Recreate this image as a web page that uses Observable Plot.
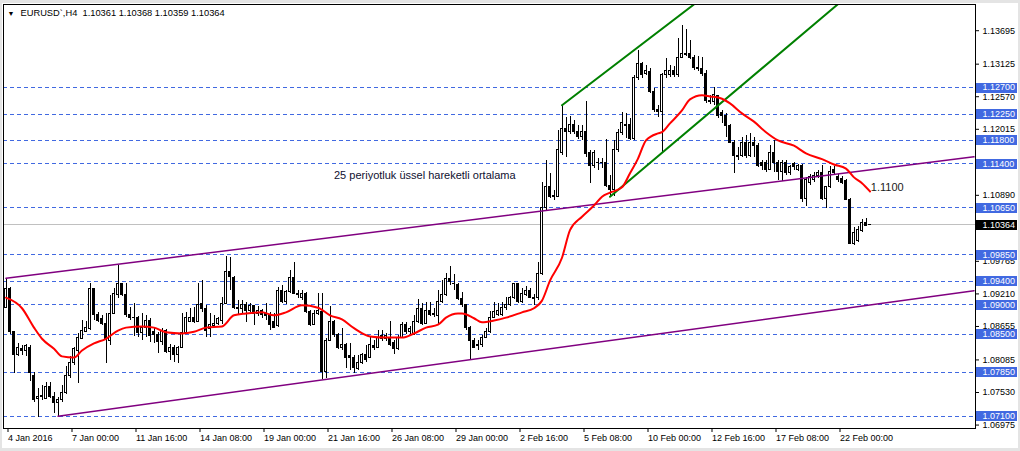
<!DOCTYPE html>
<html><head><meta charset="utf-8">
<script src="https://cdn.jsdelivr.net/npm/d3@7"></script>
<script src="https://cdn.jsdelivr.net/npm/@observablehq/plot@0.6"></script>
<style>
html,body{margin:0;padding:0;background:#fff;}
#wrap{position:relative;width:1020px;height:451px;overflow:hidden;background:#fff;}
#wrap svg{display:block;}
#edge{position:absolute;left:0;top:0;width:1020px;height:451px;box-sizing:border-box;border-style:solid;border-color:#e4e4e4;border-width:3px 2px 3px 2px;pointer-events:none;}
</style></head><body><div id="wrap"><div id="edge"></div></div>
<script>
// ---- H4 candles, bar 0 = 4 Jan 2016 08:00 ----
const open = [
1.0895,1.0926,1.0853,1.0815,1.0824,1.0822,1.0827,1.0778,1.0739,1.0742,
1.0740,1.0759,1.0742,1.0732,1.0737,1.0750,1.0778,1.0800,1.0822,1.0842,
1.0854,1.0858,1.0926,1.0883,1.0875,1.0868,1.0839,1.0885,1.0917,1.0936,
1.0916,1.0882,1.0878,1.0877,1.0851,1.0861,1.0873,1.0854,1.0848,1.0836,
1.0856,1.0820,1.0827,1.0815,1.0827,1.0851,1.0871,1.0878,1.0871,1.0902,
1.0892,1.0858,1.0863,1.0868,1.0873,1.0902,1.0955,1.0946,1.0895,1.0892,
1.0899,1.0890,1.0897,1.0885,1.0889,1.0885,1.0882,1.0870,1.0863,1.0924,
1.0904,1.0921,1.0946,1.0919,1.0912,1.0919,1.0887,1.0866,1.0885,1.0887,
1.0786,1.0839,1.0870,1.0848,1.0827,1.0832,1.0812,1.0810,1.0790,1.0800,
1.0814,1.0810,1.0829,1.0827,1.0846,1.0841,1.0844,1.0834,1.0824,1.0844,
1.0866,1.0853,1.0849,1.0870,1.0892,1.0868,1.0889,1.0882,1.0880,1.0904,
1.0916,1.0943,1.0936,1.0933,1.0909,1.0899,1.0860,1.0839,1.0832,1.0831,
1.0844,1.0854,1.0878,1.0883,1.0883,1.0895,1.0899,1.0911,1.0935,1.0904,
1.0916,1.0924,1.0909,1.0912,1.0953,1.1064,1.1101,1.1086,1.1084,1.1159,
1.1200,1.1194,1.1207,1.1194,1.1185,1.1194,1.1158,1.1137,1.1142,1.1141,
1.1141,1.1103,1.1095,1.1163,1.1192,1.1207,1.1207,1.1183,1.1287,1.1311,
1.1294,1.1297,1.1263,1.1231,1.1228,1.1291,1.1291,1.1299,1.1291,1.1321,
1.1326,1.1328,1.1320,1.1303,1.1301,1.1294,1.1248,1.1245,1.1255,1.1226,
1.1222,1.1205,1.1176,1.1154,1.1153,1.1175,1.1153,1.1175,1.1171,1.1142,
1.1142,1.1130,1.1159,1.1141,1.1127,1.1142,1.1124,1.1139,1.1130,1.1136,
1.1081,1.1107,1.1112,1.1119,1.1124,1.1081,1.1100,1.1129,1.1117,1.1115,
1.1110,1.1079,1.1004,1.1009,1.1025,1.1040,1.10361];
const high = [
1.0945,1.0929,1.0854,1.0834,1.0831,1.0832,1.0831,1.0784,1.0757,1.0762,
1.0767,1.0767,1.0750,1.0742,1.0762,1.0795,1.0812,1.0827,1.0851,1.0873,
1.0871,1.0936,1.0928,1.0887,1.0882,1.0885,1.0916,1.0928,1.0967,1.0936,
1.0936,1.0895,1.0902,1.0880,1.0885,1.0882,1.0877,1.0860,1.0853,1.0860,
1.0858,1.0832,1.0831,1.0829,1.0885,1.0887,1.0894,1.0895,1.0936,1.0941,
1.0899,1.0885,1.0882,1.0878,1.0912,1.0982,1.0980,1.0948,1.0907,1.0907,
1.0904,1.0902,1.0899,1.0897,1.0892,1.0902,1.0887,1.0885,1.0929,1.0933,
1.0924,1.0958,1.0972,1.0924,1.0924,1.0921,1.0890,1.0890,1.0919,1.0919,
1.0842,1.0897,1.0873,1.0851,1.0860,1.0834,1.0834,1.0814,1.0814,1.0817,
1.0831,1.0844,1.0839,1.0856,1.0856,1.0851,1.0871,1.0839,1.0848,1.0870,
1.0870,1.0863,1.0882,1.0909,1.0902,1.0904,1.0904,1.0894,1.0924,1.0941,
1.0953,1.0965,1.0952,1.0936,1.0921,1.0900,1.0863,1.0842,1.0839,1.0848,
1.0860,1.0889,1.0904,1.0902,1.0904,1.0912,1.0914,1.0936,1.0936,1.0928,
1.0931,1.0928,1.0917,1.0972,1.1108,1.1146,1.1124,1.1095,1.1197,1.1240,
1.1219,1.1221,1.1214,1.1205,1.1205,1.1246,1.1163,1.1163,1.1149,1.1149,
1.1182,1.1120,1.1180,1.1199,1.1228,1.1226,1.1217,1.1291,1.1333,1.1313,
1.1308,1.1303,1.1268,1.1240,1.1294,1.1320,1.1308,1.1306,1.1354,1.1376,
1.1369,1.1350,1.1325,1.1323,1.1321,1.1299,1.1257,1.1270,1.1257,1.1231,
1.1226,1.1207,1.1180,1.1168,1.1185,1.1188,1.1192,1.1185,1.1175,1.1146,
1.1146,1.1171,1.1180,1.1146,1.1146,1.1146,1.1137,1.1142,1.1139,1.1139,
1.1117,1.1122,1.1125,1.1129,1.1137,1.1101,1.1136,1.1136,1.1122,1.1119,
1.1113,1.1081,1.1032,1.1033,1.1045,1.1047,1.10368];
const low = [
1.0894,1.0849,1.0783,1.0812,1.0814,1.0812,1.0769,1.0733,1.0708,1.0737,
1.0739,1.0740,1.0715,1.0710,1.0733,1.0747,1.0774,1.0796,1.0766,1.0841,
1.0853,1.0856,1.0873,1.0870,1.0865,1.0800,1.0831,1.0883,1.0911,1.0914,
1.0878,1.0873,1.0846,1.0844,1.0839,1.0844,1.0836,1.0834,1.0817,1.0831,
1.0817,1.0805,1.0802,1.0800,1.0825,1.0849,1.0870,1.0868,1.0870,1.0887,
1.0844,1.0844,1.0860,1.0865,1.0866,1.0900,1.0924,1.0892,1.0883,1.0885,
1.0870,1.0887,1.0865,1.0880,1.0877,1.0873,1.0856,1.0860,1.0861,1.0902,
1.0900,1.0919,1.0917,1.0911,1.0907,1.0885,1.0863,1.0865,1.0882,1.0773,
1.0774,1.0837,1.0844,1.0824,1.0822,1.0791,1.0788,1.0783,1.0788,1.0798,
1.0802,1.0808,1.0822,1.0825,1.0837,1.0837,1.0829,1.0815,1.0822,1.0842,
1.0849,1.0849,1.0848,1.0868,1.0865,1.0866,1.0880,1.0878,1.0865,1.0902,
1.0914,1.0933,1.0924,1.0907,1.0895,1.0856,1.0807,1.0825,1.0822,1.0827,
1.0842,1.0851,1.0877,1.0880,1.0880,1.0890,1.0897,1.0909,1.0902,1.0902,
1.0914,1.0911,1.0899,1.0907,1.0950,1.1061,1.1081,1.1078,1.1083,1.1154,
1.1151,1.1190,1.1190,1.1182,1.1180,1.1151,1.1107,1.1132,1.1129,1.1132,
1.1100,1.1084,1.1084,1.1159,1.1188,1.1183,1.1180,1.1180,1.1282,1.1286,
1.1291,1.1260,1.1228,1.1219,1.1159,1.1286,1.1287,1.1287,1.1287,1.1320,
1.1323,1.1318,1.1299,1.1297,1.1289,1.1243,1.1241,1.1240,1.1217,1.1209,
1.1185,1.1175,1.1124,1.1146,1.1151,1.1149,1.1151,1.1151,1.1134,1.1129,
1.1125,1.1129,1.1125,1.1112,1.1110,1.1120,1.1120,1.1129,1.1127,1.1074,
1.1067,1.1103,1.1108,1.1115,1.1078,1.1064,1.1098,1.1122,1.1108,1.1105,
1.1078,1.1003,1.1001,1.1006,1.1023,1.1033,1.10359];
const close = [
1.0926,1.0853,1.0814,1.0827,1.0822,1.0829,1.0783,1.0737,1.0742,1.0745,
1.0759,1.0742,1.0732,1.0737,1.0750,1.0778,1.0800,1.0824,1.0844,1.0856,
1.0860,1.0926,1.0883,1.0873,1.0868,1.0841,1.0885,1.0919,1.0936,1.0916,
1.0882,1.0878,1.0877,1.0851,1.0861,1.0873,1.0846,1.0848,1.0836,1.0856,
1.0820,1.0827,1.0815,1.0827,1.0851,1.0877,1.0878,1.0871,1.0900,1.0892,
1.0856,1.0865,1.0868,1.0875,1.0902,1.0955,1.0948,1.0895,1.0892,1.0899,
1.0890,1.0897,1.0885,1.0889,1.0883,1.0880,1.0866,1.0861,1.0924,1.0904,
1.0921,1.0946,1.0919,1.0916,1.0919,1.0887,1.0866,1.0885,1.0889,1.0786,
1.0839,1.0870,1.0848,1.0827,1.0832,1.0810,1.0810,1.0793,1.0800,1.0814,
1.0805,1.0831,1.0827,1.0844,1.0841,1.0846,1.0832,1.0824,1.0844,1.0866,
1.0853,1.0858,1.0870,1.0892,1.0868,1.0889,1.0883,1.0885,1.0904,1.0916,
1.0943,1.0938,1.0935,1.0909,1.0899,1.0860,1.0839,1.0827,1.0829,1.0844,
1.0854,1.0878,1.0887,1.0889,1.0895,1.0900,1.0911,1.0935,1.0904,1.0919,
1.0924,1.0912,1.0912,1.0953,1.1064,1.1101,1.1084,1.1083,1.1163,1.1200,
1.1194,1.1207,1.1194,1.1185,1.1194,1.1156,1.1137,1.1158,1.1141,1.1142,
1.1103,1.1095,1.1163,1.1192,1.1209,1.1204,1.1183,1.1287,1.1311,1.1291,
1.1299,1.1263,1.1231,1.1228,1.1292,1.1299,1.1299,1.1291,1.1321,1.1328,
1.1328,1.1321,1.1303,1.1301,1.1294,1.1248,1.1245,1.1257,1.1221,1.1222,
1.1204,1.1176,1.1153,1.1151,1.1175,1.1153,1.1175,1.1170,1.1137,1.1137,
1.1130,1.1159,1.1141,1.1127,1.1142,1.1124,1.1134,1.1134,1.1136,1.1081,
1.1113,1.1117,1.1120,1.1124,1.1081,1.1100,1.1127,1.1125,1.1112,1.1108,
1.1079,1.1004,1.1023,1.1027,1.1040,1.1035,1.10364];

// 25-period EMA (bar index, price)
const emaIdx = [0,4,7,9,12,14,17,19,22,25,28,30,34,37,40,44,47,50,54,57,60,64,67,70,74,78,81,84,87,91,95,99,102,105,108,110,113,114,117,119,122,125,129,132,134,136,139,141,144,147,149,151,154,156,158,160,163,164,166,169,171,174,176,179,181,184,187,190,193,197,200,204,207,210,212,214,216];
const emaVal = [1.0912,1.0894,1.0861,1.0842,1.0825,1.0812,1.0810,1.0822,1.0834,1.0842,1.0856,1.0861,1.0863,1.0861,1.0853,1.0851,1.0854,1.0861,1.0863,1.0882,1.0885,1.0887,1.0882,1.0887,1.0899,1.0895,1.0882,1.0875,1.0860,1.0846,1.0844,1.0844,1.0851,1.0861,1.0866,1.0878,1.0885,1.0885,1.0877,1.0870,1.0873,1.0878,1.0887,1.0894,1.0907,1.0941,1.0980,1.1027,1.1050,1.1069,1.1084,1.1091,1.1100,1.1124,1.1149,1.1180,1.1192,1.1194,1.1209,1.1231,1.1250,1.1257,1.1255,1.1251,1.1243,1.1226,1.1212,1.1194,1.1180,1.1171,1.1158,1.1148,1.1139,1.1132,1.1117,1.1107,1.1093];

// horizontal levels, current price, axis ticks
const hLevels = [1.1270,1.1225,1.1180,1.1140,1.1065,1.0985,1.0940,1.0900,1.0850,1.0785,1.0710];
const lastPrice = [1.10364];
const priceTicks = [1.13695,1.13125,1.12570,1.12015,1.10890,1.09765,1.09210,1.08655,1.08085,1.07530,1.06975];
const timeTickIdx = [0,16,32,48,64,80,96,112,128,144,160,176,192,208];
const timeLabels = ["4 Jan 2016","7 Jan 00:00","11 Jan 16:00","14 Jan 08:00","19 Jan 00:00","21 Jan 16:00","26 Jan 08:00","29 Jan 00:00","2 Feb 16:00","5 Feb 08:00","10 Feb 00:00","12 Feb 16:00","17 Feb 08:00","22 Feb 00:00"];

// trend lines (bar index, price)
const purpleUpperIdx = [0,242], purpleUpperVal = [1.0945,1.1152];
const purpleLowerIdx = [13,242], purpleLowerVal = [1.0710,1.0924];
const greenUpperIdx = [139,173], greenUpperVal = [1.1240,1.1417];
const greenLowerIdx = [151,209], greenLowerVal = [1.1084,1.1418];

// text objects
const notes = ["25 periyotluk üssel hareketli ortalama"];
const noteIdx = [82], noteVal = [1.1120];
const tagText = ["1.1100"], tagIdx = [216.2], tagVal = [1.1100];
const header = ["EURUSD`,H4  1.10361 1.10368 1.10359 1.10364"];

const BLUE = "#4169e1";
const X_MIN = -0.625, X_MAX = 242.375;
const bars = open.map((o, i) => ({i, o, h: high[i], l: low[i], c: close[i]}));
const line = (idx, val) => idx.map((x, k) => ({x, y: val[k]}));
const fmt = d3.format(".5f");

const chart = Plot.plot({
  width: 1020, height: 451,
  marginLeft: 3, marginRight: 45, marginTop: 4, marginBottom: 23,
  style: {fontFamily: "'Liberation Sans', Arial, sans-serif", fontSize: "9px", color: "black", background: "white", overflow: "visible"},
  x: {domain: [X_MIN, X_MAX]},
  y: {domain: [1.06891, 1.14116]},
  marks: [
    Plot.ruleY(hLevels, {y: d => d, stroke: BLUE, strokeDasharray: "4,3", shapeRendering: "crispEdges"}),
    Plot.ruleY(lastPrice, {y: d => d, stroke: "#c0c0c0", shapeRendering: "crispEdges"}),
    Plot.ruleX(bars, {x: "i", y1: "l", y2: "h", stroke: "black", shapeRendering: "crispEdges"}),
    Plot.rect(bars, {x1: d => d.i - 0.25, x2: d => d.i + 0.25,
      y1: d => Math.min(d.o, d.c), y2: d => Math.max(d.o, d.c),
      fill: d => d.c >= d.o ? "white" : "black", stroke: "black", shapeRendering: "crispEdges"}),
    Plot.line(line(purpleUpperIdx, purpleUpperVal), {x: "x", y: "y", stroke: "#800080", strokeWidth: 1.5, clip: true}),
    Plot.line(line(purpleLowerIdx, purpleLowerVal), {x: "x", y: "y", stroke: "#800080", strokeWidth: 1.5, clip: true}),
    Plot.line(line(greenUpperIdx, greenUpperVal), {x: "x", y: "y", stroke: "#008000", strokeWidth: 2, clip: true}),
    Plot.line(line(greenLowerIdx, greenLowerVal), {x: "x", y: "y", stroke: "#008000", strokeWidth: 2, clip: true}),
    Plot.line(line(emaIdx, emaVal), {x: "x", y: "y", stroke: "#ff0000", strokeWidth: 2, curve: "monotone-x", clip: true}),
    Plot.text(notes, {x: noteIdx, y: noteVal, text: d => d, textAnchor: "start", fill: "#101030", fontSize: 11}),
    Plot.text(tagText, {x: tagIdx, y: tagVal, text: d => d, textAnchor: "start", fill: "#1a1a1a", fontSize: 11}),
    Plot.text(["\u25BC"], {frameAnchor: "top-left", dx: 7.5, dy: 9, text: d => d, textAnchor: "middle", lineAnchor: "middle", fontSize: 7, fill: "black"}),
    Plot.text(header, {frameAnchor: "top-left", dx: 17, dy: 9, text: d => d, textAnchor: "start", lineAnchor: "middle", fontSize: 9.3, fill: "black"}),
    Plot.axisY({anchor: "right", ticks: priceTicks, tickFormat: fmt, tickSize: 3, tickPadding: 4, dy: 1.5, fontSize: 9, fill: "black"}),
    Plot.axisX({anchor: "bottom", ticks: timeTickIdx, tickFormat: (d, i) => timeLabels[i], textAnchor: "start", dx: 2, tickSize: 4, tickPadding: 2, fontSize: 9, fill: "black"}),
    Plot.ruleY(hLevels, {y: d => d, x1: X_MAX + 0.3, x2: X_MAX + 10.6, stroke: BLUE, strokeWidth: 10, shapeRendering: "crispEdges"}),
    Plot.text(hLevels, {y: d => d, frameAnchor: "right", dx: 7, text: fmt, textAnchor: "start", fill: "white", fontSize: 9}),
    Plot.ruleY(lastPrice, {y: d => d, x1: X_MAX + 0.3, x2: X_MAX + 10.6, stroke: "black", strokeWidth: 10, shapeRendering: "crispEdges"}),
    Plot.text(lastPrice, {y: d => d, frameAnchor: "right", dx: 7, text: fmt, textAnchor: "start", fill: "white", fontSize: 9}),
    Plot.frame({stroke: "black", shapeRendering: "crispEdges"})
  ]
});
document.getElementById("wrap").prepend(chart);
</script>
</body></html>
